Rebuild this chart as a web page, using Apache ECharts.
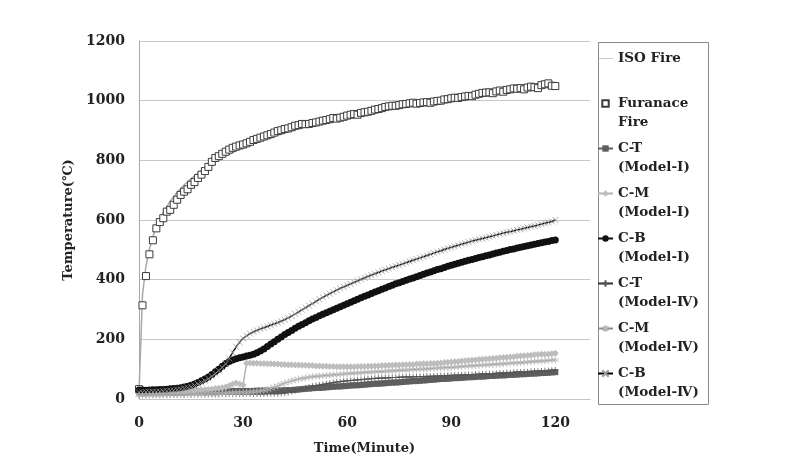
<!DOCTYPE html>
<html>
<head>
<meta charset="utf-8">
<script src="https://cdn.jsdelivr.net/npm/echarts@6/dist/echarts.min.js"></script>
<style>html,body{margin:0;padding:0;background:#fff;}#chart{width:793px;height:462px;}</style>
</head>
<body>
<div id="chart"></div>
<script>
// Minutes 0..120 (one reading per minute)
const minutes = Array.from({length: 121}, (_, i) => i);
const xTicks = [0, 30, 60, 90, 120];
const yTicks = [0, 200, 400, 600, 800, 1000, 1200];

const isoFire = [20,349,445,502,544,576,603,626,645,663,678,693,705,717,728,739,748,757,766,774,
781,789,796,802,809,815,820,826,832,837,842,847,851,856,860,865,869,873,877,881,
885,888,892,896,899,902,906,909,912,915,918,921,924,927,930,932,935,938,940,943,
945,947,950,952,954,957,959,961,963,966,968,970,972,974,976,978,980,982,984,986,
988,990,992,994,995,997,999,1001,1002,1004,1006,1008,1009,1011,1012,1014,1016,1017,1019,1020,
1022,1023,1025,1026,1028,1029,1030,1032,1033,1035,1036,1037,1039,1040,1041,1043,1044,1045,1046,1048,1049];

const furnaceFire = [33,314,412,485,532,572,593,606,628,634,651,668,684,695,703,718,727,741,752,764,
778,795,808,814,822,829,836,842,846,850,853,857,862,868,872,876,880,884,888,893,
898,901,905,907,911,916,918,922,921,922,925,927,930,933,935,938,942,940,943,946,
950,953,955,953,959,961,963,966,970,972,975,979,981,983,983,985,988,989,991,993,
990,992,994,995,993,997,999,1000,1004,1005,1008,1010,1009,1012,1014,1016,1015,1020,1023,1026,
1027,1028,1025,1031,1034,1030,1036,1038,1041,1040,1042,1038,1044,1047,1045,1042,1052,1055,1058,1050,1049];

const ctModel1 = [24,24,24,24,24,24,24,24,24,24,25,25,25,25,25,25,25,25,25,26,
26,26,26,26,26,26,26,27,27,27,27,27,27,27,28,28,28,28,28,28,
28,29,29,30,30,31,32,33,34,35,36,37,37,38,39,40,41,42,42,43,
44,45,46,46,47,48,49,50,51,51,52,53,54,55,55,56,57,58,59,60,
60,61,62,63,64,65,66,67,67,68,69,70,70,71,72,73,73,74,75,75,
76,77,77,78,79,79,80,81,81,82,83,83,84,85,85,86,87,87,88,89,90];

const cmModel1 = [18,18,19,19,20,20,21,21,22,23,23,24,25,25,26,27,28,29,30,31,
32,33,35,36,38,40,44,50,54,50,47,120,121,120,120,119,119,118,118,117,
117,116,116,115,115,114,114,113,113,112,112,111,111,110,110,109,109,108,108,108,
108,108,108,109,109,109,110,110,111,111,112,112,113,113,114,114,115,115,116,116,
117,117,118,118,119,119,120,121,122,123,124,125,126,127,128,129,130,131,132,133,
134,135,136,137,138,139,140,141,142,143,144,145,146,147,148,149,150,150,151,152,153];

const cbModel1 = [30,30,29,30,31,31,32,32,33,34,35,36,38,40,43,46,50,55,61,67,
74,82,91,100,110,119,126,131,135,138,141,144,147,150,155,161,168,176,184,192,
200,208,216,223,230,237,244,250,256,262,268,273,279,284,289,294,299,304,309,314,
319,324,329,334,339,344,349,354,359,363,368,372,377,381,386,390,394,398,402,406,
410,414,418,422,426,430,434,437,441,445,448,452,455,458,462,465,468,471,474,477,
480,483,486,489,492,495,498,501,503,506,509,511,514,516,519,521,524,526,528,531,533];

const ctModel4 = [14,14,14,14,14,14,14,14,14,14,14,14,14,14,15,15,15,15,15,15,
15,15,15,15,16,16,16,16,16,16,17,17,17,17,17,17,17,18,18,18,
18,19,20,22,25,28,31,34,37,40,43,45,47,49,51,53,55,57,58,60,
61,62,63,64,65,66,67,68,69,70,70,71,71,72,72,73,73,74,74,74,
75,75,75,76,76,77,77,78,78,79,79,80,80,81,81,82,82,83,83,84,
84,85,85,86,87,87,88,88,89,90,90,91,91,92,93,93,94,95,95,96,97];

const cmModel4 = [12,12,12,13,13,13,13,14,14,14,15,15,15,16,16,16,17,17,17,18,
18,18,19,19,19,20,20,20,21,21,22,22,23,24,25,27,29,32,36,40,
44,49,53,57,61,64,67,69,71,73,75,76,77,78,79,80,81,82,83,84,
85,86,87,87,88,89,90,90,91,92,92,93,94,94,95,96,97,97,98,99,
99,100,101,101,102,103,104,104,105,106,106,107,108,109,110,111,111,112,113,114,
114,115,116,117,117,118,119,120,121,121,122,123,124,125,126,127,127,128,129,130,131];

const cbModel4 = [22,22,23,23,24,24,25,26,27,28,29,31,33,35,38,41,45,50,55,61,
68,76,85,95,106,118,136,156,175,190,203,212,219,225,230,235,239,243,248,252,
256,261,266,272,278,285,292,299,306,313,320,327,334,341,347,353,359,365,371,376,
381,386,391,396,401,406,411,415,420,424,429,433,437,441,445,449,453,457,461,465,
469,473,477,481,485,489,493,497,501,505,508,512,515,519,522,526,529,532,535,538,
541,544,547,550,553,556,559,561,564,567,569,572,575,578,580,583,586,589,592,595,600];

// legend label lines (a blank first line keeps the first text line level with the icon)
const legendText = {
  'ISO Fire': ' \nISO Fire\n ',
  'Furanace Fire': ' \nFuranace\nFire',
  'C-T (Model-Ⅰ)': ' \nC-T\n(Model-Ⅰ)',
  'C-M (Model-Ⅰ)': ' \nC-M\n(Model-Ⅰ)',
  'C-B (Model-Ⅰ)': ' \nC-B\n(Model-Ⅰ)',
  'C-T (Model-Ⅳ)': ' \nC-T\n(Model-Ⅳ)',
  'C-M (Model-Ⅳ)': ' \nC-M\n(Model-Ⅳ)',
  'C-B (Model-Ⅳ)': ' \nC-B\n(Model-Ⅳ)'
};

function pairs(arr) { return minutes.map((t, i) => [t, arr[i]]); }

const FONT = 'DejaVu Serif';
const PLUS = 'path://M5 0L5 10M0 5L10 5';
const STAR = 'path://M5 0L5 10M0.7 2.5L9.3 7.5M0.7 7.5L9.3 2.5';
const CROSS = 'path://M0 0L10 10M0 10L10 0';

const chart = echarts.init(document.getElementById('chart'), null, {renderer: 'canvas'});
chart.setOption({
  animation: false,
  backgroundColor: '#fff',
  grid: {left: 139, top: 41, right: 203, bottom: 63},
  xAxis: {
    type: 'value', min: 0, max: 130, interval: 30,
    name: 'Time(Minute)', nameLocation: 'middle', nameGap: 43,
    nameTextStyle: {fontFamily: FONT, fontWeight: 'bold', fontSize: 13, color: '#222'},
    axisLine: {show: true, lineStyle: {color: '#c4c4c4', width: 1}},
    axisTick: {show: false},
    splitLine: {show: false},
    axisLabel: {
      margin: 17, fontFamily: FONT, fontWeight: 'bold', fontSize: 14, color: '#222',
      showMaxLabel: false,
      formatter: v => (xTicks.indexOf(v) >= 0 ? String(v) : '')
    }
  },
  yAxis: {
    type: 'value', min: 0, max: 1200, interval: 200,
    name: 'Temperature(℃)', nameLocation: 'middle', nameGap: 59, nameRotate: 90,
    nameTextStyle: {fontFamily: FONT, fontWeight: 'bold', fontSize: 13, color: '#222'},
    axisLine: {show: true, lineStyle: {color: '#a8a8a8', width: 1}},
    axisTick: {show: false},
    splitLine: {show: true, lineStyle: {color: '#c8c8c8', width: 1}},
    axisLabel: {
      margin: 14, fontFamily: FONT, fontWeight: 'bold', fontSize: 14, color: '#222',
      formatter: v => (yTicks.indexOf(v) >= 0 ? String(v) : '')
    }
  },
  graphic: [{
    type: 'rect', left: 596, top: 40, z: 0,
    shape: {width: 110, height: 362},
    style: {fill: 'none', stroke: '#8a8a8a', lineWidth: 1}
  }],
  legend: {
    orient: 'vertical', left: 597, top: 30, padding: 0,
    itemWidth: 15, itemHeight: 8, itemGap: -12,
    selectedMode: false,
    formatter: name => legendText[name],
    textStyle: {fontFamily: FONT, fontWeight: 'bold', fontSize: 13.5, color: '#222',
      lineHeight: 19},
    data: [
      {name: 'ISO Fire', icon: 'path://M0 4.6H20V5.4H0Z', itemStyle: {color: '#a8a8a8'}},
      'Furanace Fire', 'C-T (Model-Ⅰ)', 'C-M (Model-Ⅰ)', 'C-B (Model-Ⅰ)',
      'C-T (Model-Ⅳ)', 'C-M (Model-Ⅳ)', 'C-B (Model-Ⅳ)'
    ]
  },
  series: [
    {name: 'ISO Fire', type: 'line', data: pairs(isoFire), symbol: 'none',
      lineStyle: {color: '#a8a8a8', width: 1.5}, itemStyle: {color: '#a8a8a8'}},
    {name: 'Furanace Fire', type: 'line', data: pairs(furnaceFire), symbol: 'rect', symbolSize: 7,
      showAllSymbol: true,
      lineStyle: {width: 0, opacity: 0},
      itemStyle: {color: '#ffffff', borderColor: '#3a3a3a', borderWidth: 1}},
    {name: 'C-T (Model-Ⅰ)', type: 'line', data: pairs(ctModel1), symbol: 'rect', symbolSize: 6,
      showAllSymbol: true,
      lineStyle: {color: '#5e5e5e', width: 1.5}, itemStyle: {color: '#5e5e5e'}},
    {name: 'C-M (Model-Ⅰ)', type: 'line', data: pairs(cmModel1), symbol: 'diamond', symbolSize: 7,
      showAllSymbol: true,
      lineStyle: {color: '#b4b4b4', width: 1.5}, itemStyle: {color: '#bdbdbd'}},
    {name: 'C-B (Model-Ⅰ)', type: 'line', data: pairs(cbModel1), symbol: 'circle', symbolSize: 7,
      showAllSymbol: true,
      lineStyle: {color: '#111', width: 1.5}, itemStyle: {color: '#111'}},
    {name: 'C-T (Model-Ⅳ)', type: 'line', data: pairs(ctModel4), symbol: PLUS, symbolSize: 6,
      showAllSymbol: true,
      lineStyle: {color: '#333', width: 1.2},
      itemStyle: {color: 'rgba(0,0,0,0)', borderColor: '#555', borderWidth: 0.8}},
    {name: 'C-M (Model-Ⅳ)', type: 'line', data: pairs(cmModel4), symbol: STAR, symbolSize: 7,
      showAllSymbol: true,
      lineStyle: {color: '#8c8c8c', width: 1.2},
      itemStyle: {color: 'rgba(0,0,0,0)', borderColor: '#b8b8b8', borderWidth: 0.8}},
    {name: 'C-B (Model-Ⅳ)', type: 'line', data: pairs(cbModel4), symbol: CROSS, symbolSize: 6,
      showAllSymbol: true,
      lineStyle: {color: '#000', width: 1.4},
      itemStyle: {color: 'rgba(0,0,0,0)', borderColor: '#9a9a9a', borderWidth: 0.8}}
  ]
});
</script>
</body>
</html>
